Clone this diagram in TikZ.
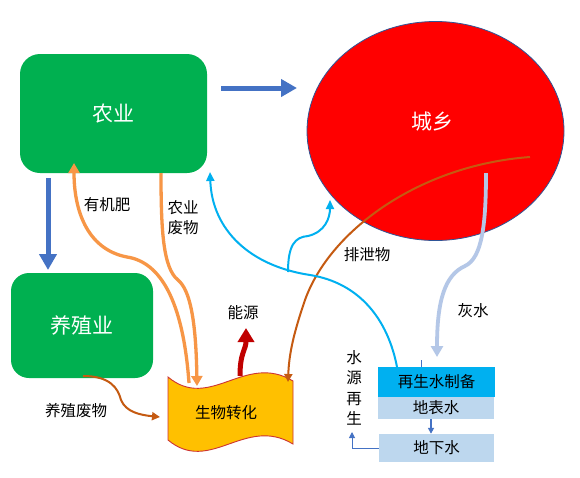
\documentclass[tikz,border=0pt]{standalone}
\usepackage{fontspec}
\setmainfont{Noto Sans CJK SC}
\usetikzlibrary{arrows.meta,shapes.geometric}
\definecolor{cgreen}{HTML}{00B050}
\definecolor{cblue}{HTML}{4472C4}
\definecolor{cedge}{HTML}{2F5597}
\definecolor{corange}{HTML}{F79646}
\definecolor{cbrown}{HTML}{C55A11}
\definecolor{ccyan}{HTML}{00B0F0}
\definecolor{cgrey}{HTML}{B4C7E7}
\definecolor{clight}{HTML}{BDD7EE}
\definecolor{cyellow}{HTML}{FFC000}
\definecolor{cdred}{HTML}{C00000}
\begin{document}
\begin{tikzpicture}[x=1pt,y=-1pt,
  gbox/.style={fill=cgreen,rounded corners=20pt,text=white,font=\fontsize{21}{24}\selectfont,inner sep=0pt},
  lbl/.style={font=\fontsize{15.5}{20}\selectfont,inner sep=0pt,align=center},
  wbox/.style={lbl,inner sep=0pt},
  bigarrow/.style={draw=cblue,line width=5pt,-{Triangle[width=17pt,length=16pt]}},
  orangeline/.style={draw=corange,line width=3.3pt},
  orangearrow/.style={orangeline,-{Triangle[width=11pt,length=10pt]}},
  brownarrow/.style={draw=cbrown,line width=2pt,-{Triangle[width=8pt,length=8pt]}},
  cyanarrow/.style={draw=ccyan,line width=2pt,-{Triangle[width=8pt,length=9pt]}},
  greyarrow/.style={draw=cgrey,line width=3.8pt,-{Triangle[width=12pt,length=11pt]}},
  smallblue/.style={draw=cblue,line width=1.5pt,-{Triangle[width=6pt,length=6pt]}},
  thinblue/.style={draw=cblue,line width=1pt,-{Triangle[width=6pt,length=6pt]}}
]
\fill[white] (0,0) rectangle (580,477);
\useasboundingbox (0,0) rectangle (580,477);

% main shapes
\node[gbox,minimum width=187pt,minimum height=119pt] (ny) at (113.5,113.5) {农业};
\node[gbox,minimum width=142pt,minimum height=105pt,rounded corners=18pt] (yz) at (82,325.5) {养殖业};
\node[ellipse,draw=cedge,fill=red,line width=0.8pt,minimum width=257pt,minimum height=219pt,inner sep=0pt] (cx) at (435.5,131) {};
\node[text=white,font=\fontsize{21}{24}\selectfont,inner sep=0pt] (cxt) at (432,122) {城乡};

% banner
\path[draw=cdred!80,fill=cyellow,line width=0.9pt]
  (168,377) .. controls (210,412) and (245,352) .. (293,381) -- (293,444)
  .. controls (245,415) and (210,475) .. (168,440) -- cycle;
\node[lbl] (bio) at (226,413) {生物转化};

% water boxes
\node[wbox,fill=clight,minimum width=116pt,minimum height=22pt] (db) at (436,408) {地表水};
\node[wbox,fill=ccyan,minimum width=117pt,minimum height=30pt] (zs) at (436.5,382) {再生水制备};
\node[wbox,fill=clight,minimum width=115pt,minimum height=28pt] (dx) at (436.5,448) {地下水};

% labels
\node[lbl] (l1) at (107,205) {有机肥};
\node[lbl] (l2) at (183,218) {农业\\废物};
\node[lbl] (l3) at (243,313) {能源};
\node[lbl] (l4) at (367,255) {排泄物};
\node[lbl] (l5) at (473,311) {灰水};
\node[lbl] (l6) at (76,411) {养殖废物};
\node[lbl,font=\fontsize{15.5}{20.3}\selectfont] (l7) at (354,388) {水\\源\\再\\生};

% coordinates
\coordinate (r1) at (221,88);
\coordinate (r2) at (297,88);
\coordinate (d1) at (48,178);
\coordinate (d2) at (48,270);
\coordinate (oa) at (189,383);
\coordinate (ob) at (74,163);
\coordinate (oc) at (161,173);
\coordinate (od) at (197,386);
\coordinate (e1) at (240,376);
\coordinate (e2) at (246,328);
\coordinate (b1) at (530,157);
\coordinate (b2) at (288,382);
\coordinate (y1) at (83,376);
\coordinate (y2) at (160,417);
\coordinate (c1) at (397,367);
\coordinate (c2) at (210,172);
\coordinate (cb) at (288,272);
\coordinate (c3) at (330,200);
\coordinate (g1) at (486,173);
\coordinate (g2) at (437,357);
\coordinate (t1) at (352,448);
\coordinate (t2) at (352,432);
\coordinate (s1) at (421,360);

% connectors
\draw[bigarrow] (r1) -- (r2);
\draw[bigarrow] (d1) -- (d2);
\draw[orangearrow] (oa) .. controls (183,300) and (160,262) .. (127,257)
  .. controls (90,250) and (74,215) .. (ob);
\draw[orangearrow] (oc) .. controls (161,230) and (163,268) .. (178,280)
  .. controls (190,290) and (196,320) .. (od);
\draw[draw=cdred,line width=5pt,-{Triangle[width=16pt,length=14pt]}]
  (e1) .. controls (240,352) and (246,350) .. (e2);
\draw[brownarrow] (b1) .. controls (420,165) and (330,230) .. (305,300)
  .. controls (293,335) and (289,355) .. (b2);
\draw[brownarrow] (y1) .. controls (110,376) and (118,388) .. (121,400)
  .. controls (126,412) and (140,415) .. (y2);
\draw[cyanarrow] (c1) .. controls (388,320) and (360,283) .. (310,275)
  .. controls (250,266) and (212,230) .. (c2);
\draw[cyanarrow] (cb) .. controls (288,245) and (295,237) .. (308,236)
  .. controls (325,232) and (330,218) .. (c3);
\draw[greyarrow] (g1) .. controls (486,225) and (482,258) .. (465,266)
  .. controls (445,275) and (437,300) .. (g2);
\draw[smallblue] (db.south -| 431,0) -- (dx.north -| 431,0);
\draw[thinblue] (dx.west) -- (t1) -- (t2);
\draw[draw=cblue,line width=1pt] (s1) -- (zs.north -| s1);
\end{tikzpicture}
\end{document}
